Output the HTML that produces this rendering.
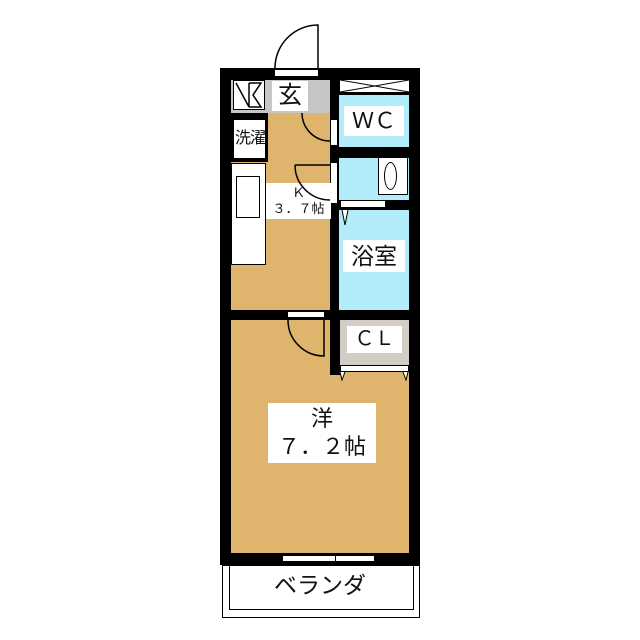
<!DOCTYPE html>
<html><head><meta charset="utf-8"><style>
body{margin:0;background:#fff;}
.a{position:absolute;box-sizing:border-box;}
.t{font-family:"Liberation Sans","Noto Sans CJK JP",sans-serif;color:#111;text-align:center;background:#fff;}
</style></head><body>
<div style="position:relative;width:640px;height:640px;overflow:hidden">
<svg class="a" style="left:0;top:0" width="640" height="640">
<path d="M275 68 A43 43 0 0 1 318 25 L318 68" fill="none" stroke="#000" stroke-width="1.5"/>
</svg>
<div class="a" style="left:220px;top:68px;width:200px;height:497px;background:#000"></div>
<div class="a" style="left:275px;top:70px;width:43px;height:6px;background:#fff"></div>
<div class="a" style="left:231px;top:80px;width:99px;height:33px;background:#c6c6c6"></div>
<div class="a" style="left:233px;top:80px;width:32px;height:30px;background:#fff;border:1.5px solid #000"></div>
<svg class="a" style="left:233px;top:80px" width="32" height="30"><path d="M3 3 L16 27 M16 3 L28 3 L20 15 L28 27 L16 27 M16 3 L16 27" fill="none" stroke="#000" stroke-width="1.5"/></svg>
<div class="a t" style="left:272px;top:81px;width:36px;height:30px;font-size:24px;line-height:30px">玄</div>
<div class="a" style="left:268px;top:113px;width:62px;height:197px;background:#dfb46d"></div>
<div class="a" style="left:231px;top:162px;width:37px;height:148px;background:#dfb46d"></div>
<div class="a" style="left:231px;top:115px;width:37px;height:47px;background:#000"></div>
<div class="a" style="left:233px;top:119px;width:33px;height:40px;background:#fff;border:1px solid #000"></div>
<div class="a t" style="left:232px;top:127px;width:36px;height:24px;font-size:16px;line-height:24px;background:transparent;letter-spacing:-1px">洗濯</div>
<div class="a" style="left:231px;top:163px;width:35px;height:102px;background:#fff;border:1.5px solid #000"></div>
<div class="a" style="left:236px;top:176px;width:24px;height:42px;background:#fff;border:1.5px solid #000"></div>
<div class="a t" style="left:266px;top:183px;width:65px;height:36px;font-size:13px;line-height:16px;padding-top:2px">Ｋ<br>３．７帖</div>
<svg class="a" style="left:0;top:0" width="640" height="640">
<path d="M302 113 A28 28 0 0 0 330 141" fill="none" stroke="#000" stroke-width="1.5"/>
<path d="M295 165 A35 35 0 0 0 330 200" fill="none" stroke="#000" stroke-width="1.5"/>
<path d="M295 165 L330 165" stroke="#000" stroke-width="1.5"/>
</svg>
<div class="a" style="left:331px;top:120px;width:6px;height:25px;background:#fff"></div>
<div class="a" style="left:331px;top:163px;width:6px;height:40px;background:#fff"></div>
<div class="a" style="left:340px;top:80px;width:69px;height:12px;background:#fff"></div>
<svg class="a" style="left:340px;top:80px" width="69" height="12"><path d="M0 0 L69 12 M0 12 L69 0" stroke="#000" stroke-width="1"/></svg>
<div class="a" style="left:339px;top:95px;width:70px;height:52px;background:#b2ebf9"></div>
<div class="a t" style="left:344px;top:106px;width:60px;height:30px;font-size:22px;line-height:30px">ＷＣ</div>
<div class="a" style="left:339px;top:158px;width:70px;height:42px;background:#b2ebf9"></div>
<div class="a" style="left:378px;top:157px;width:30px;height:38px;background:#fff;border:1px solid #000"></div>
<div class="a" style="left:384px;top:162px;width:13px;height:28px;border:1.5px solid #000;border-radius:50%"></div>
<div class="a" style="left:341px;top:201px;width:44px;height:6px;background:#fff"></div>
<div class="a" style="left:339px;top:210px;width:70px;height:100px;background:#b2ebf9"></div>
<svg class="a" style="left:0;top:0" width="640" height="640"><path d="M342 210 L345 225 L348 210" fill="#fff" stroke="#000"/></svg>
<div class="a t" style="left:343px;top:240px;width:62px;height:32px;font-size:23px;line-height:32px">浴室</div>
<div class="a" style="left:231px;top:320px;width:178px;height:233px;background:#dfb46d"></div>
<div class="a" style="left:330px;top:318px;width:10px;height:57px;background:#000"></div>
<div class="a" style="left:340px;top:320px;width:69px;height:45px;background:#d2cec6"></div>
<div class="a" style="left:340px;top:365px;width:69px;height:7px;background:#fff;border:1px solid #000"></div>
<div class="a t" style="left:347px;top:326px;width:55px;height:27px;font-size:20px;line-height:27px">ＣＬ</div>
<svg class="a" style="left:0;top:0" width="640" height="640">
<path d="M340 372 L342 380 L345 372 M403 372 L406 380 L408 372" fill="#fff" stroke="#000"/>
<path d="M288 320 A36 36 0 0 0 324 356 L324 320" fill="none" stroke="#000" stroke-width="1.5"/>
</svg>
<div class="a" style="left:288px;top:312px;width:36px;height:5px;background:#fff"></div>
<div class="a t" style="left:268px;top:403px;width:108px;height:60px;font-size:22px;line-height:28px;padding-top:2px">洋<br>７．２帖</div>
<div class="a" style="left:282px;top:555px;width:93px;height:7px;background:#fff;border:1px solid #000"></div>
<div class="a" style="left:335px;top:553px;width:1px;height:11px;background:#000"></div>
<div class="a" style="left:222px;top:565px;width:198px;height:53px;border:1px solid #000;background:#fff"></div>
<div class="a" style="left:229px;top:565px;width:185px;height:45px;border:1px solid #000;border-top:none"></div>
<div class="a t" style="left:245px;top:569px;width:150px;height:32px;font-size:23px;line-height:32px;background:transparent">ベランダ</div>
</div>
</body></html>
